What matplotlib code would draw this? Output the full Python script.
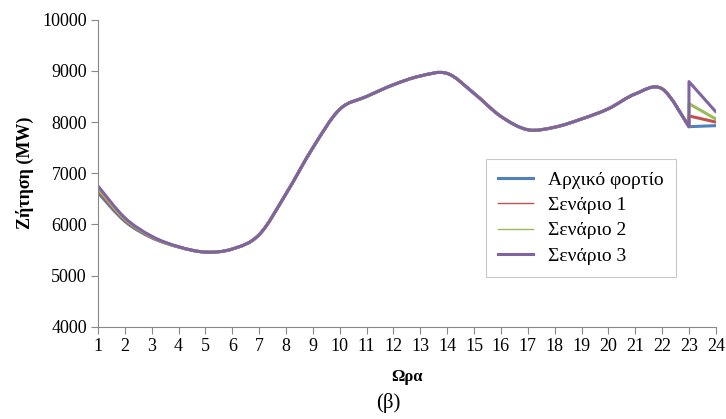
import numpy as np
import matplotlib.pyplot as plt
from matplotlib.path import Path
from matplotlib.patches import PathPatch
from matplotlib.lines import Line2D

# hourly demand (MW), hours 1..23 along the smooth part
hours = list(range(1, 24))
base = [6620, 6060, 5740, 5560, 5460, 5520, 5800, 6600, 7500, 8250, 8500,
        8730, 8900, 8950, 8560, 8110, 7850, 7900, 8060, 8260, 8550, 8650, 7910]
# extra load added at the first hours by each scenario
shift_s1 = [40, 25, 10, 0]
shift_s2 = [80, 45, 20, 0]
shift_s3 = [130, 70, 30, 5]
# value right after the jump at hour 23, and at hour 24
jump = {'Αρχικό φορτίο': 7910, 'Σενάριο 1': 8120, 'Σενάριο 2': 8360, 'Σενάριο 3': 8790}
end24 = {'Αρχικό φορτίο': 7930, 'Σενάριο 1': 8000, 'Σενάριο 2': 8060, 'Σενάριο 3': 8200}

names = ['Αρχικό φορτίο', 'Σενάριο 1', 'Σενάριο 2', 'Σενάριο 3']
shifts = [[0], shift_s1, shift_s2, shift_s3]
colors = ['#4F81BD', '#C0504D', '#9BBB59', '#8064A2']
leg_widths = [2.2, 1.0, 1.0, 2.2]

plt.rcParams['font.family'] = ['Liberation Serif', 'DejaVu Serif']


def smooth_path(xs, ys):
    # Catmull-Rom style bezier through the points (like Excel's smoothed line)
    pts = np.column_stack([xs, ys]).astype(float)
    n = len(pts)
    verts = [pts[0]]
    codes = [Path.MOVETO]
    for i in range(n - 1):
        p0 = pts[max(i - 1, 0)]
        p1 = pts[i]
        p2 = pts[i + 1]
        p3 = pts[min(i + 2, n - 1)]
        c1 = p1 + (p2 - p0) / 6.0
        c2 = p2 - (p3 - p1) / 6.0
        verts += [c1, c2, p2]
        codes += [Path.CURVE4] * 3
    return verts, codes


fig = plt.figure(figsize=(7.26, 4.19), dpi=100)
ax = fig.add_axes([0.135, 0.22, 0.851, 0.733])

for name, sh, col in zip(names, shifts, colors):
    ys = np.array(base, dtype=float)
    ys[:len(sh)] += sh
    verts, codes = smooth_path(hours, ys)
    # vertical jump at hour 23, then down to hour 24
    verts += [(23, jump[name]), (24, end24[name])]
    codes += [Path.LINETO, Path.LINETO]
    ax.add_patch(PathPatch(Path(verts, codes), fill=False, edgecolor=col,
                           lw=2.2, capstyle='round', joinstyle='round'))

ax.set_xlim(1, 24)
ax.set_ylim(4000, 10000)
ax.set_xticks(range(1, 25))
ax.set_yticks(range(4000, 10001, 1000))
ax.tick_params(labelsize=13, color='#888888', length=5, pad=3)

for s in ['top', 'right']:
    ax.spines[s].set_visible(False)
for s in ['left', 'bottom']:
    ax.spines[s].set_color('#888888')

ax.set_ylabel('Ζήτηση (MW)', fontsize=13, fontweight='bold', labelpad=6)
ax.set_xlabel('Ωρα', fontsize=12, fontweight='bold', labelpad=10)
fig.text(0.535, 0.015, '(β)', fontsize=15, ha='center', va='bottom')

handles = [Line2D([], [], color=c, lw=w) for c, w in zip(colors, leg_widths)]
leg = ax.legend(handles, names, loc='upper left', bbox_to_anchor=(0.628, 0.545),
                fontsize=14, frameon=True, fancybox=False, edgecolor='#bbbbbb',
                handlelength=1.8, labelspacing=0.4, borderpad=0.6, borderaxespad=0)
leg.get_frame().set_linewidth(0.8)

fig.savefig('out.png', dpi=100)
